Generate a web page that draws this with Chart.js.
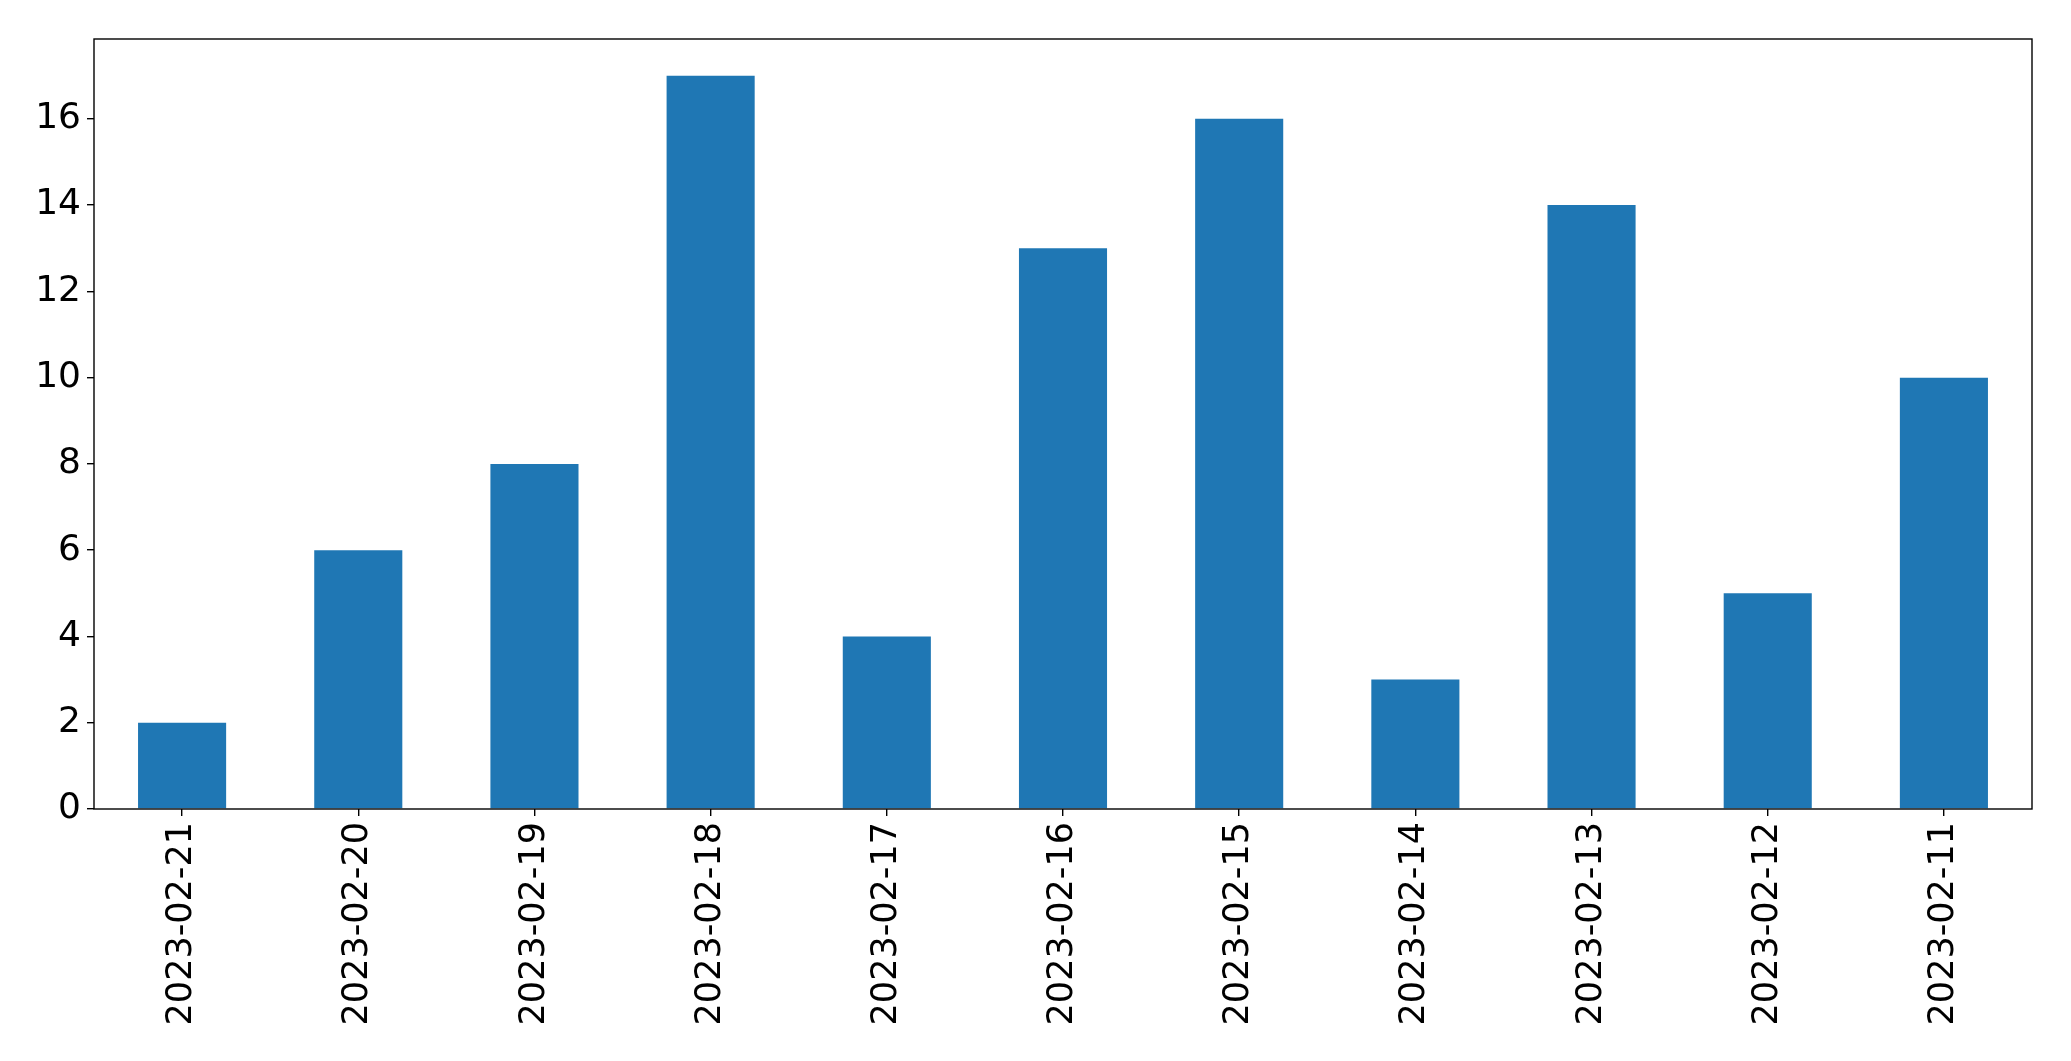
<!DOCTYPE html>
<html>
<head>
<meta charset="utf-8">
<script src="https://cdn.jsdelivr.net/npm/chart.js@4/dist/chart.umd.min.js"></script>
<style>
  html, body { margin: 0; padding: 0; background: #fff; }
  #wrap { width: 2071px; height: 1061px; }
</style>
</head>
<body>
<div id="wrap"><canvas id="barChart" width="2071" height="1061"></canvas></div>
<script>
const dates = ["2023-02-21", "2023-02-20", "2023-02-19", "2023-02-18", "2023-02-17", "2023-02-16",
  "2023-02-15", "2023-02-14", "2023-02-13", "2023-02-12", "2023-02-11"];
const counts = [2, 6, 8, 17, 4, 13, 16, 3, 14, 5, 10];
const yTicks = [0, 2, 4, 6, 8, 10, 12, 14, 16];

// frame around the plot area, like matplotlib spines
const framePlugin = {
  id: "frame",
  afterDraw(chart) {
    const a = chart.chartArea;
    const c = chart.ctx;
    c.save();
    c.strokeStyle = "#000";
    c.lineWidth = 1.4;
    c.strokeRect(a.left, a.top, a.right - a.left, a.bottom - a.top);
    c.restore();
  },
};

const ctx = document.getElementById("barChart").getContext("2d");
new Chart(ctx, {
  type: "bar",
  data: {
    labels: dates,
    datasets: [{
      data: counts,
      backgroundColor: "#1f77b4",
      barPercentage: 0.5,
      categoryPercentage: 1.0,
    }],
  },
  options: {
    responsive: false,
    animation: false,
    layout: { padding: { top: 39, right: 39, left: 0, bottom: 0 } },
    plugins: { legend: { display: false }, tooltip: { enabled: false } },
    scales: {
      x: {
        grid: { offset: false, drawOnChartArea: false, drawTicks: true, tickLength: 7, color: "#000", lineWidth: 1.4 },
        border: { display: false },
        ticks: {
          color: "#000",
          font: { family: "DejaVu Sans", size: 35 },
          minRotation: 90,
          maxRotation: 90,
          padding: 6,
        },
        afterFit(scale) { scale.height = 1061 - 809; },
      },
      y: {
        min: 0,
        max: 17.85,
        grid: { drawOnChartArea: false, drawTicks: true, tickLength: 7, color: "#000", lineWidth: 1.4 },
        border: { display: false },
        ticks: {
          color: "#000",
          font: { family: "DejaVu Sans", size: 36 },
          stepSize: 2,
          padding: 6,
        },
        afterBuildTicks(scale) {
          scale.ticks = yTicks.map(v => ({ value: v }));
        },
        afterFit(scale) { scale.width = 94; },
      },
    },
  },
  plugins: [framePlugin],
});
</script>
</body>
</html>
